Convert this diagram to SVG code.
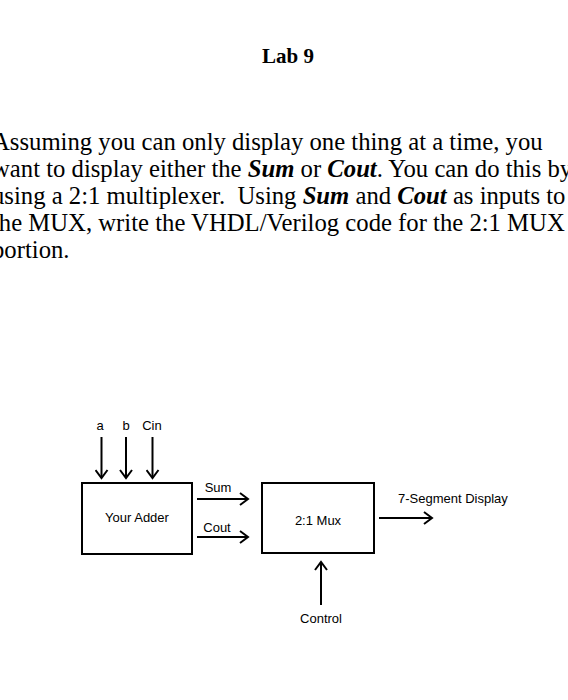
<svg xmlns="http://www.w3.org/2000/svg" width="568" height="700" viewBox="0 0 568 700">
<defs>
<style>
.title{font-family:"Liberation Serif","Times New Roman",serif;font-size:21px;font-weight:bold;fill:#000}
.para{font-family:"Liberation Serif","Times New Roman",serif;font-size:24.7px;fill:#000;white-space:pre}
.bi{font-weight:bold;font-style:italic}
.lbl{font-family:"Liberation Sans",Arial,sans-serif;font-size:13px;fill:#000}
.box{fill:#fff;stroke:#000;stroke-width:2}
.wire{fill:none;stroke:#000;stroke-width:2}
</style>
<marker id="arr" markerUnits="userSpaceOnUse" markerWidth="12" markerHeight="14" refX="8" refY="0" viewBox="-1 -7 11 14" orient="auto">
<path d="M0,-6 L8,0 L0,6" fill="none" stroke="#000" stroke-width="2"/>
</marker>
</defs>
<rect width="568" height="700" fill="#fff"/>
<text class="title" x="288" y="63" text-anchor="middle">Lab 9</text>
<g id="paragraph">
<text class="para" x="-8" y="150">Assuming you can only display one thing at a time, you</text>
<text class="para" x="-8" y="177">want to display either the <tspan class="bi">Sum</tspan> or <tspan class="bi">Cout</tspan>. You can do this by</text>
<text class="para" x="-8" y="204" xml:space="preserve">using a 2:1 multiplexer.  Using <tspan class="bi">Sum</tspan> and <tspan class="bi">Cout</tspan> as inputs to</text>
<text class="para" x="-8" y="231">the MUX, write the VHDL/Verilog code for the 2:1 MUX</text>
<text class="para" x="-8" y="258">portion.</text>
</g>
<g id="adder">
<rect class="box" x="82" y="483" width="110" height="71"/>
<text class="lbl" x="137" y="522" text-anchor="middle">Your Adder</text>
</g>
<g id="mux">
<rect class="box" x="262" y="483" width="112" height="70"/>
<text class="lbl" x="318" y="525" text-anchor="middle">2:1 Mux</text>
</g>
<g id="connectors">
<line class="wire" x1="101.5" y1="437" x2="101.5" y2="478" marker-end="url(#arr)"/>
<line class="wire" x1="126" y1="437" x2="126" y2="478" marker-end="url(#arr)"/>
<line class="wire" x1="152.5" y1="437" x2="152.5" y2="478" marker-end="url(#arr)"/>
<line class="wire" x1="197" y1="499" x2="248" y2="499" marker-end="url(#arr)"/>
<line class="wire" x1="197" y1="537" x2="248" y2="537" marker-end="url(#arr)"/>
<line class="wire" x1="379" y1="518" x2="432" y2="518" marker-end="url(#arr)"/>
<line class="wire" x1="321" y1="605" x2="321" y2="562" marker-end="url(#arr)"/>
</g>
<g id="labels">
<text class="lbl" x="100" y="430" text-anchor="middle">a</text>
<text class="lbl" x="126" y="430" text-anchor="middle">b</text>
<text class="lbl" x="152" y="430" text-anchor="middle">Cin</text>
<text class="lbl" x="218" y="492" text-anchor="middle">Sum</text>
<text class="lbl" x="217" y="532" text-anchor="middle">Cout</text>
<text class="lbl" x="398" y="503">7-Segment Display</text>
<text class="lbl" x="321" y="623" text-anchor="middle">Control</text>
</g>
</svg>
